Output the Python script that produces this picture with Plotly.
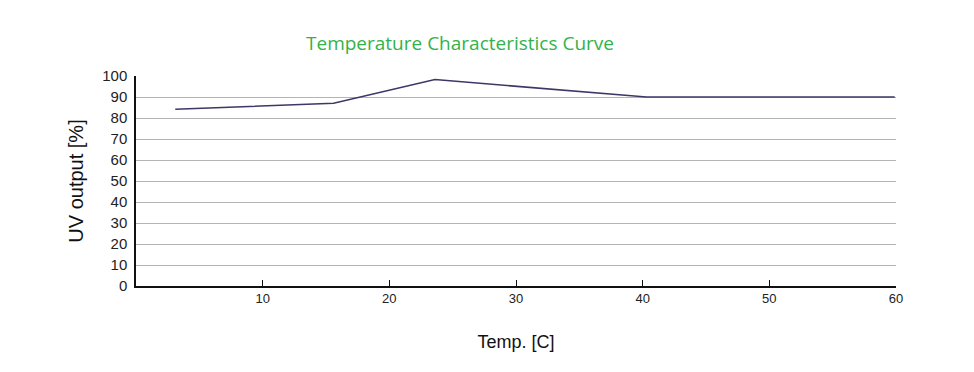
import plotly.graph_objects as go

temps = [3.1, 15.6, 23.6, 40.3, 59.9]
uv_output = [84.2, 87.0, 98.3, 90.0, 90.0]
x_ticks = [10, 20, 30, 40, 50, 60]
y_ticks = [0, 10, 20, 30, 40, 50, 60, 70, 80, 90, 100]

fig = go.Figure()
fig.add_trace(go.Scatter(
    x=temps, y=uv_output, mode="lines",
    line=dict(color="#3b3868", width=1.6),
    showlegend=False, hoverinfo="x+y",
))

fig.update_layout(
    width=974, height=372,
    margin=dict(l=136, r=78, t=76, b=86),
    paper_bgcolor="white", plot_bgcolor="white",
    font=dict(family="Liberation Sans, Arial, sans-serif", color="#222222"),
    title=dict(
        text="Temperature Characteristics Curve",
        font=dict(family="Open Sans, sans-serif", size=19, color="#33b24a"),
        x=460 / 974, xanchor="center", y=1 - 43 / 372, yanchor="middle",
        automargin=False,
    ),
    xaxis=dict(
        range=[0, 60], tickvals=x_ticks, ticktext=[str(v) for v in x_ticks],
        showgrid=False, zeroline=False, automargin=False,
        showline=True, linecolor="#111111", linewidth=1.5,
        ticks="inside", ticklen=6, tickwidth=1.3, tickcolor="#111111",
        tickfont=dict(size=13, color="#222222"),
        title=dict(text="Temp. [C]", font=dict(size=18, color="#111111"), standoff=30),
        fixedrange=True,
    ),
    yaxis=dict(
        range=[0, 100], tickvals=y_ticks, automargin=False,
        showgrid=True, gridcolor="#b4b4b4", gridwidth=1, zeroline=False,
        showline=True, linecolor="#111111", linewidth=1.5,
        ticks="", ticklabelstandoff=4,
        tickfont=dict(size=15, color="#222222"),
        title=dict(text="UV output [%]", font=dict(size=20, color="#111111"), standoff=13),
        fixedrange=True,
    ),
)

fig.write_html(
    "out.html",
    config={"displayModeBar": False},
    post_script="document.body.style.margin='0';",
)
